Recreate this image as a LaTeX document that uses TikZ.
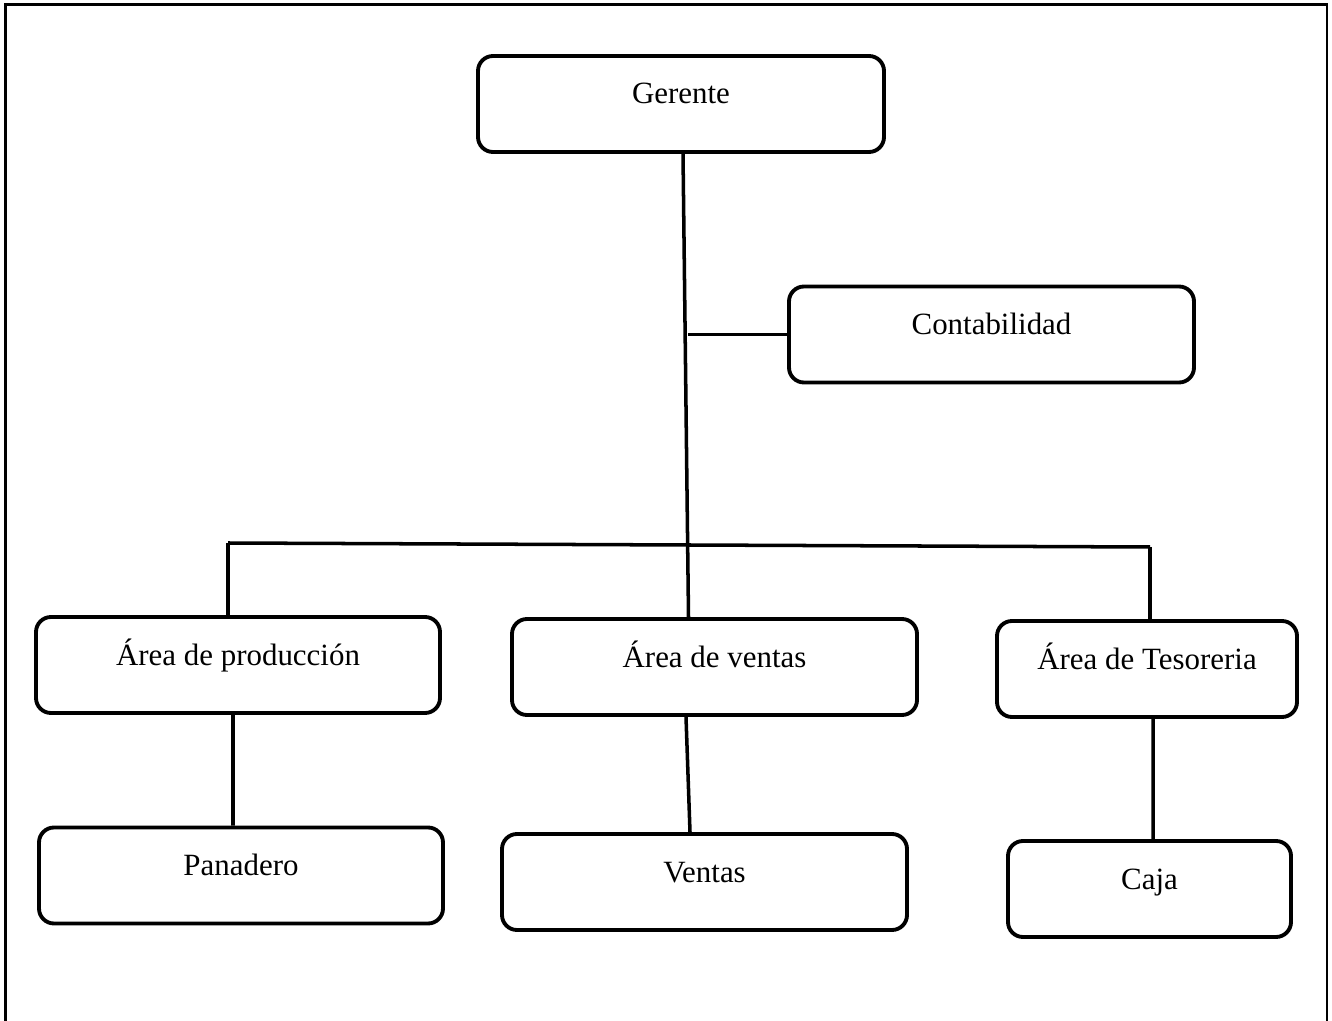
\documentclass[tikz,border=0pt]{standalone}
\usepackage{fontspec}
\setmainfont{Liberation Serif}
\usetikzlibrary{positioning, calc}

\begin{document}
\begin{tikzpicture}[
    box/.style={draw, line width=2.2pt, rounded corners=0.3cm, minimum height=1.92cm,
                text height=0.5cm, text depth=0.5cm, inner sep=0pt,
                font=\fontsize{17.6}{20}\selectfont},
    link/.style={line width=2pt}
]
\useasboundingbox (0,0) rectangle (26.64,-20.42);

% Frame (open at the bottom)
\draw[line width=1.3pt] (0.11,-20.42) -- (0.11,-0.09) -- (26.54,-0.09) -- (26.54,-20.42);

% Top
\node[box, minimum width=8.12cm] (gerente) at (13.62, -2.08) {Gerente};
\node[box, minimum width=8.1cm] (contabilidad) at (19.83, -6.69) {Contabilidad};

% Areas
\node[box, minimum width=8.08cm] (areaprod) at (4.76, -13.30) {Área de producción};
\node[box, minimum width=8.1cm] (areaventas) at (14.29, -13.34) {Área de ventas};
\node[box, minimum width=6.0cm] (areateso) at (22.94, -13.38) {Área de Tesoreria};

% Staff
\node[box, minimum width=8.08cm] (panadero) at (4.82, -17.51) {Panadero};
\node[box, minimum width=8.1cm] (ventas) at (14.09, -17.64) {Ventas};
\node[box, minimum width=5.66cm] (caja) at (22.99, -17.78) {Caja};

% Connections
\coordinate (barL) at (4.56, -10.86);
\coordinate (barR) at (23.0, -10.94);
\draw[link] ([xshift=0.04cm]gerente.south) -- ([xshift=-0.52cm]areaventas.north);
\draw[link] (contabilidad.west) -- ++(-1.98, 0);
\draw[link] (barL) -- (barR);
\draw[link] (barL) -- (barL |- areaprod.north);
\draw[link] (barR) -- (barR |- areateso.north);

\draw[link] ([xshift=-0.1cm]areaprod.south) -- ([xshift=-0.16cm]panadero.north);
\draw[link] ([xshift=-0.57cm]areaventas.south) -- ([xshift=-0.29cm]ventas.north);
\draw[link] ([xshift=0.12cm]areateso.south) -- ([xshift=0.07cm]caja.north);
\end{tikzpicture}
\end{document}
